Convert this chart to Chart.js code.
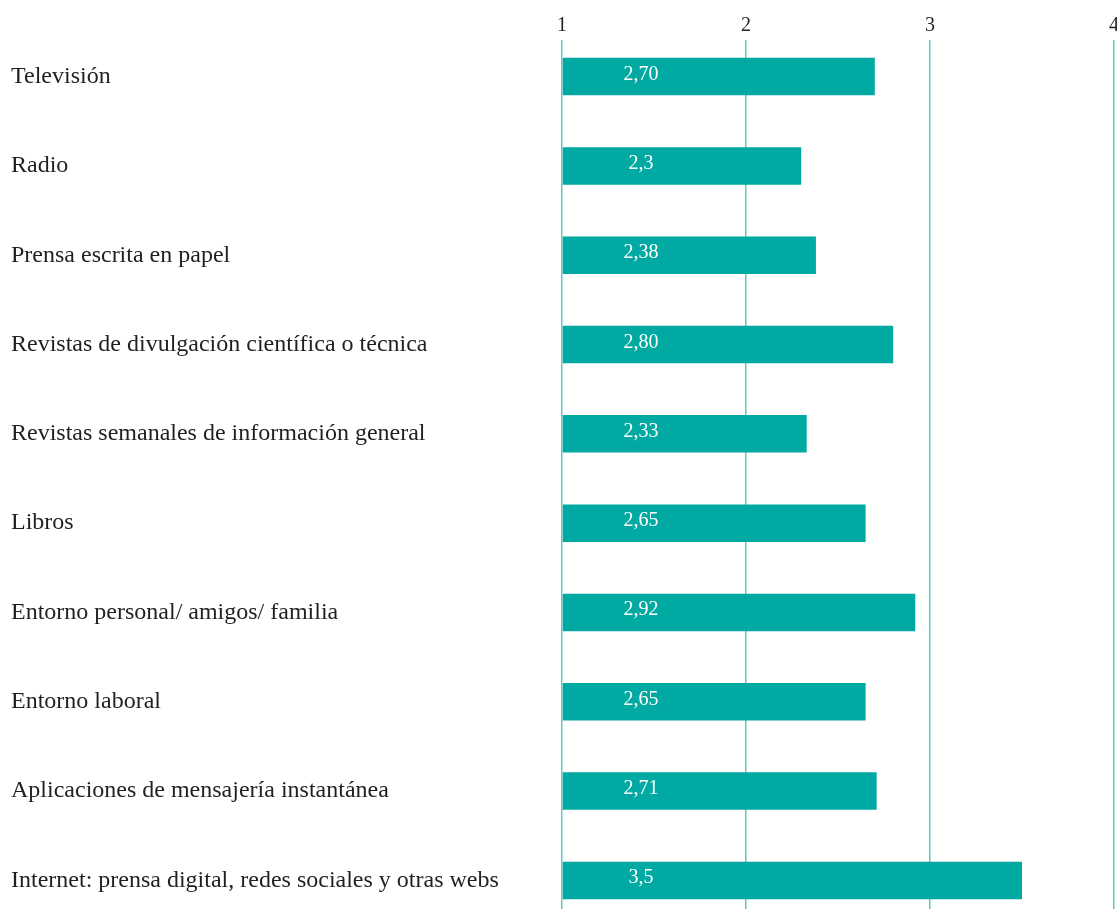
<!DOCTYPE html>
<html>
<head>
<meta charset="utf-8">
<script src="https://cdn.jsdelivr.net/npm/chart.js@4/dist/chart.umd.min.js"></script>
<style>
    html, body { margin: 0; padding: 0; background: #fff; overflow: hidden; }
    #wrap { position: relative; width: 1117px; height: 909px; }
</style>
</head>
<body>
<div id="wrap"><canvas id="chart"></canvas></div>
<script>
// Categories and values
const categories = [
    'Televisión',
    'Radio',
    'Prensa escrita en papel',
    'Revistas de divulgación científica o técnica',
    'Revistas semanales de información general',
    'Libros',
    'Entorno personal/ amigos/ familia',
    'Entorno laboral',
    'Aplicaciones de mensajería instantánea',
    'Internet: prensa digital, redes sociales y otras webs'
];
const values = [2.70, 2.3, 2.38, 2.80, 2.33, 2.65, 2.92, 2.65, 2.71, 3.5];
const valueLabels = ['2,70', '2,3', '2,38', '2,80', '2,33', '2,65', '2,92', '2,65', '2,71', '3,5'];
const tickValues = [1, 2, 3, 4];

const teal = '#00a9a1';
const gridTeal = '#5fc9c4';
const textColor = '#231f20';
const serif = '"Liberation Serif", "DejaVu Serif", serif';

// white value text near the start of each bar
const valueTextPlugin = {
    id: 'valueText',
    afterDatasetsDraw(chart) {
        const ctx = chart.ctx;
        const meta = chart.getDatasetMeta(0);
        const x0 = chart.scales.x.getPixelForValue(tickValues[0]) + 79;
        ctx.save();
        ctx.font = '20px ' + serif;
        ctx.fillStyle = '#ffffff';
        ctx.textAlign = 'center';
        ctx.textBaseline = 'alphabetic';
        meta.data.forEach((bar, i) => {
            ctx.fillText(valueLabels[i], x0, bar.y + 3);
        });
        ctx.restore();
    }
};

new Chart(document.getElementById('chart'), {
    type: 'bar',
    data: {
        datasets: [{
            data: values.map((v, i) => ({ x: v, y: i })),
            backgroundColor: teal,
            borderWidth: 0,
            barPercentage: 0.42,
            categoryPercentage: 1,
            base: 1
        }]
    },
    options: {
        indexAxis: 'y',
        responsive: true,
        maintainAspectRatio: false,
        animation: false,
        layout: { padding: { left: 11, right: 3, top: 0, bottom: 0 } },
        plugins: {
            legend: { display: false },
            tooltip: { enabled: false }
        },
        scales: {
            x: {
                type: 'linear',
                position: 'top',
                min: 1,
                max: 4,
                afterBuildTicks(scale) {
                    scale.ticks = tickValues.map(v => ({ value: v }));
                },
                afterFit(scale) {
                    scale.height = 40;
                    scale.paddingLeft = 0;
                    scale.paddingRight = 0;
                },
                border: { display: false },
                grid: { color: gridTeal, lineWidth: 1.5, drawTicks: false },
                ticks: {
                    color: textColor,
                    padding: 2,
                    font: { family: serif, size: 20 }
                }
            },
            y: {
                type: 'linear',
                reverse: true,
                offset: false,
                min: -0.41,
                max: 9.32,
                afterBuildTicks(scale) {
                    scale.ticks = categories.map((c, i) => ({ value: i }));
                },
                afterFit(scale) {
                    scale.width = 551;
                    scale.paddingTop = 0;
                    scale.paddingBottom = 0;
                },
                border: { display: false },
                grid: { display: false, offset: false },
                ticks: {
                    crossAlign: 'far',
                    color: textColor,
                    font: { family: serif, size: 24 },
                    callback: (value) => categories[value]
                }
            }
        }
    },
    plugins: [valueTextPlugin]
});
</script>
</body>
</html>
